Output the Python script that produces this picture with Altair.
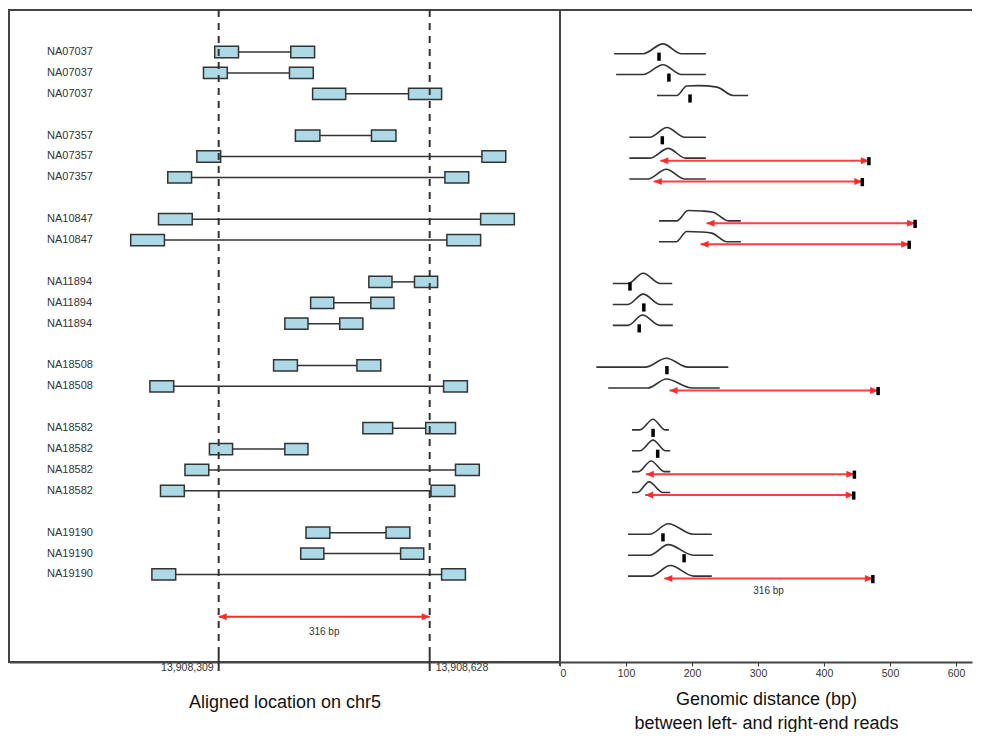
import altair as alt
import pandas as pd

# ---------------- data ----------------
sample = ["NA07037", "NA07037", "NA07037",
          "NA07357", "NA07357", "NA07357",
          "NA10847", "NA10847",
          "NA11894", "NA11894", "NA11894",
          "NA18508", "NA18508",
          "NA18582", "NA18582", "NA18582", "NA18582",
          "NA19190", "NA19190", "NA19190"]
row = [0, 1, 2, 4, 5, 6, 8, 9, 11, 12, 13, 15, 16, 18, 19, 20, 21, 23, 24, 25]

left_start = [13908303, 13908286, 13908451, 13908425, 13908276, 13908232, 13908218, 13908176,
              13908536, 13908448, 13908409, 13908392, 13908205, 13908527, 13908295, 13908258,
              13908221, 13908441, 13908433, 13908208]
right_start = [13908418, 13908416, 13908596, 13908540, 13908707, 13908651, 13908705, 13908654,
               13908605, 13908539, 13908492, 13908518, 13908649, 13908622, 13908409, 13908667,
               13908630, 13908562, 13908584, 13908646]
read_len = [36, 36, 50, 37, 36, 36, 51, 51, 35, 35, 35, 36, 36, 45, 35, 36, 36, 36, 35, 36]

observed = [150, 165, 197, 155, 468, 458, 538, 529, 106, 127, 120, 162, 482, 141, 148, 446, 445,
            156, 188, 474]
discordant = [False, False, False, False, True, True, True, True, False, False, False, False,
              True, False, False, True, True, False, False, True]

# insert-size distribution outlines (bp, relative density)
curve_x = [
    [82, 126, 156, 184, 221],
    [85, 126, 156, 184, 221],
    [147, 177, 192, 210, 238, 262, 285],
    [105, 136, 162, 189, 221],
    [105, 136, 164, 190, 221],
    [105, 133, 161, 189, 221],
    [150, 177, 194, 215, 232, 255, 274],
    [150, 176, 192, 213, 230, 253, 274],
    [80, 103, 126, 152, 170],
    [80, 103, 126, 152, 171],
    [80, 103, 125, 151, 171],
    [55, 129, 161, 194, 255],
    [73, 133, 161, 200, 242],
    [109, 121, 141, 159, 165],
    [109, 121, 141, 160, 167],
    [109, 119, 138, 158, 167],
    [109, 117, 135, 156, 167],
    [103, 136, 164, 202, 230],
    [103, 136, 164, 202, 232],
    [103, 138, 167, 203, 230],
]
curve_h = [
    [0, 0, 1.0, 0, 0],
    [0, 0, 1.0, 0, 0],
    [0, 0, 0.97, 1.0, 0.85, 0, 0],
    [0, 0, 1.0, 0, 0],
    [0, 0, 1.0, 0, 0],
    [0, 0, 1.0, 0, 0],
    [0, 0, 1.05, 1.0, 0.88, 0, 0],
    [0, 0, 1.05, 1.0, 0.88, 0, 0],
    [0, 0, 1.05, 0, 0],
    [0, 0, 1.05, 0, 0],
    [0, 0, 1.05, 0, 0],
    [0, 0, 0.9, 0, 0],
    [0, 0, 0.92, 0, 0],
    [0, 0, 1.08, 0, 0],
    [0, 0, 1.08, 0, 0],
    [0, 0, 1.08, 0, 0],
    [0, 0, 1.08, 0, 0],
    [0, 0, 1.08, 0, 0],
    [0, 0, 1.08, 0, 0],
    [0, 0, 1.08, 0, 0],
]

breakpoints = [13908309, 13908628]
breakpoint_labels = ["13,908,309", "13,908,628"]
sv_size = 316
dist_ticks = [0, 100, 200, 300, 400, 500, 600]

# ---------------- layout ----------------
LEFT_W, RIGHT_W, H = 551, 412, 652
FONT = "Liberation Sans"
RED = "#ff2a2a"
DARK = "#333333"

yscale = alt.Scale(domain=[-2.01, 29.19], reverse=True, nice=False, zero=False)
xs_left = alt.Scale(domain=[13907992, 13908825], nice=False, zero=False)
xs_right = alt.Scale(domain=[0, 624.2], nice=False, zero=False)

left_axis = alt.Axis(ticks=False, labels=False, grid=False, domainColor="#444", domainWidth=2,
                     title="Aligned location on chr5", titleFontSize=18, titleFontWeight="normal",
                     titleColor="#111", titleBaseline="top", titleY=31, titleFont=FONT)
right_axis = alt.Axis(values=dist_ticks, grid=False, tickSize=4, tickColor=DARK, tickWidth=1,
                      labelFontSize=10.5, labelColor=DARK, labelPadding=2, labelFont=FONT,
                      domainColor="#444", domainWidth=2,
                      title=["Genomic distance (bp)", "between left- and right-end reads"],
                      titleFontSize=18, titleFontWeight="normal", titleColor="#111",
                      titleBaseline="top", titleY=28, titleLineHeight=24, titleFont=FONT)

# ---------------- frames ----------------
reads = pd.DataFrame({"sample": sample, "row": row, "ls": left_start, "rs": right_start,
                      "len": read_len})
reads["le"] = reads["ls"] + reads["len"]
reads["re"] = reads["rs"] + reads["len"]

boxes = pd.concat([
    pd.DataFrame({"x1": reads["ls"], "x2": reads["le"], "row": reads["row"]}),
    pd.DataFrame({"x1": reads["rs"], "x2": reads["re"], "row": reads["row"]}),
])
boxes["y1"] = boxes["row"] - 0.27
boxes["y2"] = boxes["row"] + 0.27

bp_df = pd.DataFrame({"pos": breakpoints, "label": breakpoint_labels})

crows = []
for r, xs, hs in zip(row, curve_x, curve_h):
    for i, (xv, hv) in enumerate(zip(xs, hs)):
        crows.append({"row": r, "x": xv, "y": r + 0.08 - hv * 0.47, "i": i})
curves = pd.DataFrame(crows)

ticks = pd.DataFrame({"row": row, "obs": observed})
ticks["y1"] = ticks["row"] + 0.03
ticks["y2"] = ticks["row"] + 0.42

arr = pd.DataFrame({"row": row, "obs": observed, "disc": discordant})
arr = arr[arr["disc"]].copy()
arr["start"] = arr["obs"] - sv_size
arr["y"] = arr["row"] + 0.2

left_arrow = pd.DataFrame({"a": [breakpoints[0]], "b": [breakpoints[1]], "y": [27.03],
                           "mid": [(breakpoints[0] + breakpoints[1]) / 2], "ty": [27.75],
                           "t": [f"{sv_size} bp"]})
right_text = pd.DataFrame({"x": [(observed[-1] - sv_size + observed[-1]) / 2], "y": [25.79],
                           "t": [f"{sv_size} bp"]})

HEAD_L = "M0,0L4,-1.75L4,1.75Z"
HEAD_R = "M0,0L-4,-1.75L-4,1.75Z"


def XL(f):
    return alt.X(f, type="quantitative", scale=xs_left, axis=left_axis)


def XR(f):
    return alt.X(f, type="quantitative", scale=xs_right, axis=right_axis)


def Y(f):
    return alt.Y(f, type="quantitative", scale=yscale, axis=None)


# ---------------- left panel ----------------
l_lines = alt.Chart(reads).mark_rule(color=DARK, strokeWidth=1.5).encode(
    x=XL("le"), x2="rs", y=Y("row"))
l_boxes = alt.Chart(boxes).mark_rect(fill="#add8e6", stroke=DARK, strokeWidth=1.5).encode(
    x=XL("x1"), x2="x2", y=Y("y1"), y2="y2")
l_dash = alt.Chart(bp_df).mark_rule(color=DARK, strokeWidth=2, strokeDash=[7, 6]).encode(
    x=XL("pos"), y=alt.value(0), y2=alt.value(H - 8))
l_tick = alt.Chart(bp_df).mark_rule(color=DARK, strokeWidth=2).encode(
    x=XL("pos"), y=alt.value(H - 8), y2=alt.value(H + 9))
l_bplab_l = alt.Chart(bp_df.iloc[[0]]).mark_text(
    align="right", baseline="middle", dx=-5, fontSize=10.5, color=DARK, font=FONT).encode(
    x=XL("pos"), y=alt.value(H + 6), text="label")
l_bplab_r = alt.Chart(bp_df.iloc[[1]]).mark_text(
    align="left", baseline="middle", dx=6, fontSize=10.5, color=DARK, font=FONT).encode(
    x=XL("pos"), y=alt.value(H + 6), text="label")
l_names = alt.Chart(reads).mark_text(
    align="left", baseline="middle", fontSize=11, color=DARK, font=FONT).encode(
    x=alt.value(38), y=Y("row"), text="sample")
l_arrow = alt.Chart(left_arrow).mark_rule(color=RED, strokeWidth=2).encode(
    x=XL("a"), x2="b", y=Y("y"))
l_head_a = alt.Chart(left_arrow).mark_point(shape=HEAD_L, filled=True, size=16, color=RED,
                                            opacity=1, strokeWidth=0).encode(x=XL("a"), y=Y("y"))
l_head_b = alt.Chart(left_arrow).mark_point(shape=HEAD_R, filled=True, size=16, color=RED,
                                            opacity=1, strokeWidth=0).encode(x=XL("b"), y=Y("y"))
l_text = alt.Chart(left_arrow).mark_text(baseline="middle", fontSize=10, color=DARK,
                                         font=FONT).encode(x=XL("mid"), y=Y("ty"), text="t")

left = alt.layer(l_lines, l_boxes, l_dash, l_tick, l_bplab_l, l_bplab_r, l_names,
                 l_arrow, l_head_a, l_head_b, l_text).properties(
    width=LEFT_W, height=H, view=alt.ViewBackground(stroke="#444", strokeWidth=2))

# ---------------- right panel ----------------
r_top = alt.Chart(ticks.iloc[[0]]).mark_rule(color="#444", strokeWidth=2).encode(
    x=alt.value(0), x2=alt.value(RIGHT_W), y=alt.value(0))
r_left = alt.Chart(ticks.iloc[[0]]).mark_rule(color="#444", strokeWidth=2).encode(
    x=alt.value(0), y=alt.value(0), y2=alt.value(H + 4))
r_curves = alt.Chart(curves).mark_line(interpolate="monotone", color=DARK,
                                       strokeWidth=1.6).encode(
    x=XR("x"), y=Y("y"), detail="row:N", order="i:Q")
r_arrow = alt.Chart(arr).mark_rule(color=RED, strokeWidth=2, opacity=0.9).encode(
    x=XR("start"), x2="obs", y=Y("y"))
r_head_a = alt.Chart(arr).mark_point(shape=HEAD_L, filled=True, size=16, color=RED,
                                     opacity=1, strokeWidth=0).encode(x=XR("start"), y=Y("y"))
r_head_b = alt.Chart(arr).mark_point(shape=HEAD_R, filled=True, size=16, color=RED,
                                     opacity=1, strokeWidth=0).encode(x=XR("obs"), y=Y("y"))
r_ticks = alt.Chart(ticks).mark_rule(color="black", strokeWidth=3.5).encode(
    x=XR("obs"), y=Y("y1"), y2="y2")
r_text = alt.Chart(right_text).mark_text(baseline="middle", fontSize=10, color=DARK,
                                         font=FONT).encode(x=XR("x"), y=Y("y"), text="t")

right = alt.layer(r_top, r_left, r_curves, r_arrow, r_head_a, r_head_b, r_ticks,
                  r_text).properties(width=RIGHT_W, height=H,
                                     view=alt.ViewBackground(strokeWidth=0))

chart = alt.hconcat(left, right, spacing=0, bounds="flush").properties(padding=0).configure(
    font=FONT, view=alt.ViewConfig(strokeWidth=0))

chart.save("out.html", embed_options={"renderer": "svg", "actions": False})
